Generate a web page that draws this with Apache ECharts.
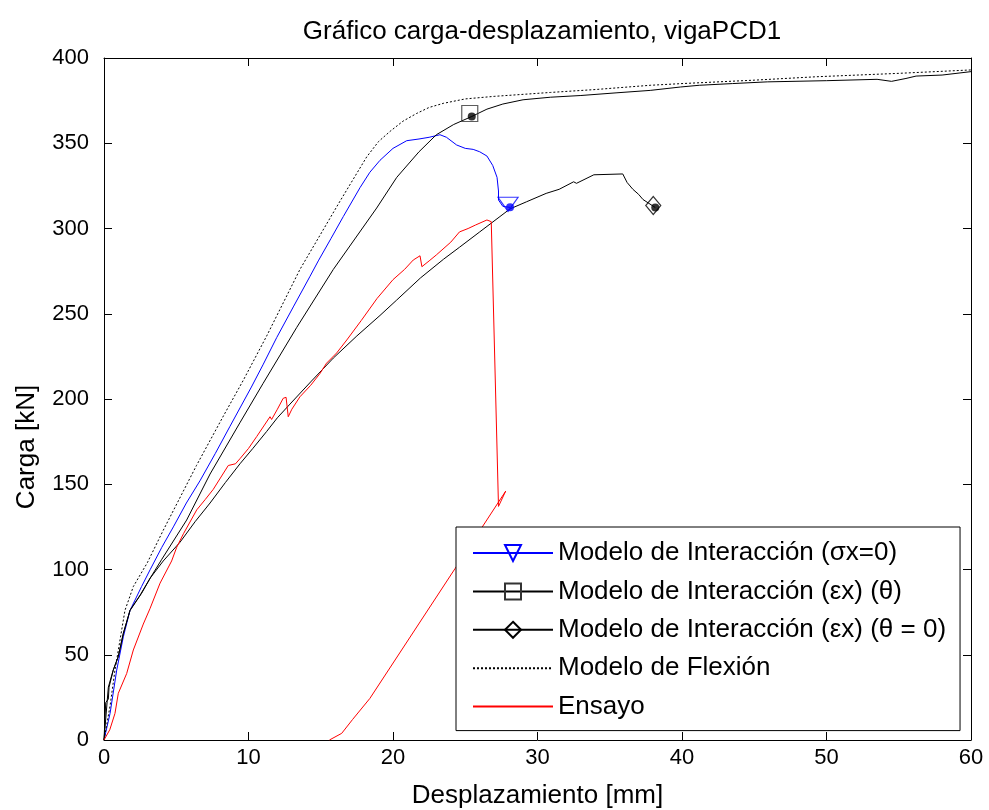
<!DOCTYPE html>
<html>
<head>
<meta charset="utf-8">
<script src="https://cdn.jsdelivr.net/npm/echarts@6/dist/echarts.min.js"></script>
<style>
  html, body { margin: 0; padding: 0; background: #fff; }
  #chart { width: 989px; height: 810px; }
</style>
</head>
<body>
<div id="chart"></div>
<script>
// Load–displacement curves, beam vigaPCD1: [displacement mm, load kN]
const modeloSigma = [
  [0,0],[0.42,15.6],[0.88,41],[1.34,60.6],[1.8,76],[2.6,90],[3.2,100],[4.0,113],[4.8,125],
  [5.7,139],[6.64,152],[7.7,168],[8.72,184],[10.2,207],[11.0,220],[11.95,236],[13.1,254],
  [14.26,272],[14.83,281],[15.7,294],[16.56,307],[17.72,324],[18.4,333],[19.1,340],[20.0,347],
  [20.95,351.5],[21.8,352.5],[22.5,353.5],[23.25,355],[23.7,353.5],[24.4,349],[25.0,347],
  [25.55,346.4],[26.0,345],[26.5,342.5],[26.9,337],[27.2,330],[27.3,322],[27.3,316.7],
  [27.6,313],[28.1,312.4]
];
const modeloTheta = [
  [0,0],[0.3,31],[0.64,41],[0.99,49],[1.34,62.6],[1.8,76],[2.6,86],[3.2,95],[4.0,106],
  [5.72,129],[7.34,156],[9.4,186],[11.0,209],[13.34,242],[15.87,276],[18.87,312],[20.26,330],
  [21.8,345],[23.0,355],[24.2,361],[25.45,365.7],[26.5,370],[27.6,373],[29.0,375.5],[30.9,377],
  [33.0,378],[35.5,379.6],[37.8,381],[39.9,383],[41.2,384],[43.5,385],[45.9,386],[50.0,386.7],
  [53.5,387.5],[54.5,386.3],[55.5,388],[56.2,389.4],[58.0,390],[60.0,392]
];
const modeloTheta0 = [
  [0,0],[0.12,22],[0.3,24],[0.35,31],[0.64,41],[0.99,49],[1.34,62.6],[1.8,76],[2.5,85],
  [3.2,95],[4.1,105],[5.26,116],[6.3,128],[7.34,139],[8.4,151],[9.41,162],[10.3,171],
  [11.26,181],[12.0,189],[12.87,197],[14.3,210],[15.87,224],[17.5,237],[19.1,249],[20.25,258],
  [21.9,271],[23.5,282],[24.6,289],[26.0,298],[27.4,307],[28.1,311.5],[29.25,315.7],
  [30.6,320.6],[31.5,323],[32.5,327.4],[32.7,326.5],[33.9,331.5],[35.9,332],[36.2,327],
  [36.6,323],[37.0,320],[37.3,317],[38.15,312.3]
];
const modeloFlexion = [
  [0,0],[0.42,20],[0.76,41],[1.45,76],[2.03,90],[3.0,104],[4.1,123],[6.4,161],[8.26,190],
  [9.64,211],[11.26,237],[13.56,276],[16.33,316],[18.18,342],[19.0,351],[19.8,357],[20.7,363],
  [21.64,367.5],[22.5,371],[23.48,373.4],[25.0,376],[27.0,377.5],[30.9,379.8],[34.0,381.5],
  [37.8,384],[40.0,385],[45.0,387],[49.3,389],[55.0,391],[60.0,393]
];
const ensayo = [
  [0,0],[0.4,6],[0.76,15.6],[0.99,27.4],[1.57,39],[2.03,52.8],[2.72,68],[3.18,77],[3.88,92],
  [4.68,105],[5.03,113],[5.5,121],[6.42,135],[7.0,141],[7.56,147],[8.6,161],[9.1,162],
  [9.41,165],[10.0,171],[10.57,178],[11.49,189.6],[11.6,188],[12.0,194],[12.4,200.4],
  [12.6,201],[12.75,189.6],[13.0,194],[13.56,201.3],[14.3,208],[14.95,215],[15.4,221],
  [16.1,227],[16.8,234.6],[17.8,246],[18.9,259],[20.0,270],[20.8,276],[21.4,281.5],
  [21.87,284],[22.0,277.6],[22.5,281],[23.0,284.5],[24.0,292],[24.6,298],[25.2,300],
  [25.7,302],[26.5,305],[26.8,304],[27.3,137],[27.8,146],[24.3,100.6],[18.4,24.4],
  [17.2,12],[16.45,3.9],[15.6,0]
];
// Failure points marked on each interaction model
const roturaSigma = [28.1, 312.4];
const roturaTheta = [25.45, 365.7];
const roturaTheta0 = [38.15, 312.3];

const xTicks = { min: 0, max: 60, step: 10 };
const yTicks = { min: 0, max: 400, step: 50 };

const names = [
  'Modelo de Interacción (σx=0)',
  'Modelo de Interacción (εx) (θ)',
  'Modelo de Interacción (εx) (θ = 0)',
  'Modelo de Flexión',
  'Ensayo'
];

const FONT = '"Liberation Sans", Arial, Helvetica, sans-serif';
const TRI_DOWN = 'path://M0,0L20,0L10,13Z';
const CLEAR = 'rgba(0,0,0,0)';

function axisX(pos, labels) {
  return {
    type: 'value', position: pos, min: xTicks.min, max: xTicks.max, interval: xTicks.step,
    splitLine: { show: false },
    axisLine: { show: true, onZero: false, lineStyle: { color: '#000', width: 1 } },
    axisTick: { show: true, inside: true, length: 8, lineStyle: { color: '#000', width: 1 } },
    axisLabel: { show: labels, color: '#000', fontFamily: FONT, fontSize: 22, margin: 7 },
    name: labels ? 'Desplazamiento [mm]' : '', nameLocation: 'middle', nameGap: 43,
    nameTextStyle: { color: '#000', fontFamily: FONT, fontSize: 26 }
  };
}
function axisY(pos, labels) {
  return {
    type: 'value', position: pos, min: yTicks.min, max: yTicks.max, interval: yTicks.step,
    splitLine: { show: false },
    axisLine: { show: true, onZero: false, lineStyle: { color: '#000', width: 1 } },
    axisTick: { show: true, inside: true, length: 8, lineStyle: { color: '#000', width: 1 } },
    axisLabel: { show: labels, color: '#000', fontFamily: FONT, fontSize: 22, margin: 15 },
    name: labels ? 'Carga [kN]' : '', nameLocation: 'middle', nameGap: 64, nameRotate: 90,
    nameTextStyle: { color: '#000', fontFamily: FONT, fontSize: 26, padding: [0, 96, 0, 0] }
  };
}

function curve(name, data, color, extra) {
  return Object.assign({
    name, type: 'line', data, showSymbol: false, symbol: 'none', silent: true,
    lineStyle: { color, width: 1 },
    itemStyle: { color: CLEAR, borderColor: CLEAR, borderWidth: 0 },
    emphasis: { disabled: true }
  }, extra || {});
}
function marker(point, symbol, size, color, offset) {
  return {
    type: 'scatter', silent: true, data: [point], symbol, symbolSize: size,
    symbolOffset: offset, symbolKeepAspect: false,
    itemStyle: { color: CLEAR, borderColor: color, borderWidth: 1.2 }, z: 4
  };
}
function dot(point, color) {
  return {
    type: 'scatter', silent: true, data: [point], symbol: 'circle', symbolSize: 8,
    itemStyle: { color }, z: 5
  };
}

const chart = echarts.init(document.getElementById('chart'), null, { renderer: 'canvas' });
chart.setOption({
  animation: false,
  backgroundColor: '#fff',
  title: {
    text: 'Gráfico carga-desplazamiento, vigaPCD1', left: 537, textAlign: 'center', top: 14,
    textStyle: { color: '#000', fontFamily: FONT, fontSize: 26, fontWeight: 'normal' }
  },
  grid: { left: 104, right: 18, top: 58, bottom: 70, containLabel: false, outerBoundsMode: 'none' },
  xAxis: [axisX('bottom', true), axisX('top', false)],
  yAxis: [axisY('left', true), axisY('right', false)],
  legend: {
    data: names, orient: 'vertical', left: 456, top: 527,
    backgroundColor: '#fff', borderColor: '#000', borderWidth: 1,
    padding: [11, 14, 9, 16], itemGap: 8.4, itemWidth: 80, itemHeight: 20,
    selectedMode: false,
    textStyle: { color: '#000', fontFamily: FONT, fontSize: 26, lineHeight: 30 }
  },
  series: [
    curve(names[0], modeloSigma, '#0000ff', {
      symbol: TRI_DOWN, itemStyle: { color: CLEAR, borderColor: '#0000ff', borderWidth: 1 }
    }),
    curve(names[1], modeloTheta, '#000', {
      symbol: 'rect', itemStyle: { color: CLEAR, borderColor: '#333', borderWidth: 1 }
    }),
    curve(names[2], modeloTheta0, '#000', {
      symbol: 'diamond', itemStyle: { color: CLEAR, borderColor: '#000', borderWidth: 1 }
    }),
    curve(names[3], modeloFlexion, '#000', {
      lineStyle: { color: '#000', width: 1, type: [2, 2] }
    }),
    curve(names[4], ensayo, '#ff0000'),
    marker(roturaSigma, TRI_DOWN, [20, 14], '#0000ff', [-2, -3]),
    dot(roturaSigma, '#0000ff'),
    marker(roturaTheta, 'rect', [16, 16], '#333', [-2, -3]),
    dot(roturaTheta, '#000'),
    marker(roturaTheta0, 'diamond', [15, 18], '#000', [-2, -2]),
    dot(roturaTheta0, '#000')
  ]
});
</script>
</body>
</html>
